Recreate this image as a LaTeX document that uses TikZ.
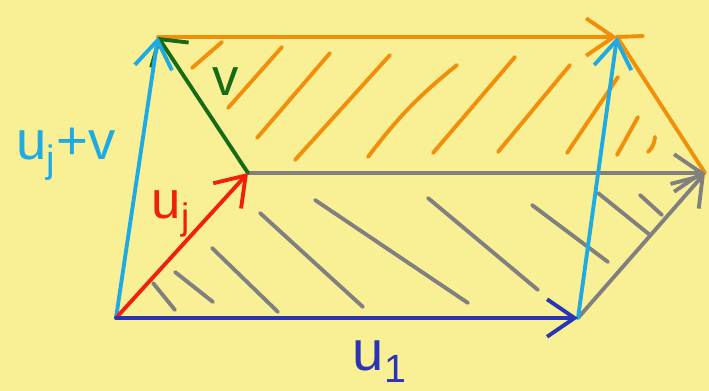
\documentclass[tikz,border=0pt]{standalone}
\usepackage{fontspec}
\setmainfont{Liberation Sans}
\usetikzlibrary{arrows.meta}
\definecolor{paper}{RGB}{249,239,148}
\definecolor{vorange}{RGB}{241,142,10}
\definecolor{vcyan}{RGB}{30,170,228}
\definecolor{vred}{RGB}{240,32,12}
\definecolor{vgreen}{RGB}{22,108,22}
\definecolor{vblue}{RGB}{42,52,182}
\definecolor{vgray}{RGB}{128,128,128}
\begin{document}
\begin{tikzpicture}[
  x=0.02cm,y=-0.02cm,
  line/.style={line width=2.2pt,line cap=round,line join=round},
  hatch/.style={line width=2.2pt,line cap=round},
  barb/.style={-{Straight Barb[length=5.5mm,width=7.5mm]}},
  corner/.style={-{Straight Barb[length=3.8mm,width=9mm]}},
  lab/.style={inner sep=0pt}]
  \fill[paper] (0,0) rectangle (709,391);
  \coordinate (O) at (116,318);
  \coordinate (A) at (578,318);
  \coordinate (B) at (248,173);
  \coordinate (C) at (705,173);
  \coordinate (D) at (158,37);
  \coordinate (E) at (617,37);
  \coordinate (Eo) at (643,36);
  % hatching of the two faces
  \foreach \xa/\ya/\xb/\yb in {192/68/222/42,228/108/282/47,257/138/330/53,
      295/160/390/55,433/153/515/57,498/152/570/65,567/153/618/77,617/155/638/117}
    \draw[hatch,vorange] (\xa,\ya) -- (\xb,\yb);
  \draw[hatch,vorange] (368,157) to[bend left=7] (457,65);
  \draw[hatch,vorange] (648,152) to[bend right=20] (655,137);
  \foreach \xa/\ya/\xb/\yb in {153/283/175/310,175/272/213/302,212/248/278/312,
      260/213/363/307,315/200/468/303,428/198/538/290,532/205/608/262,
      598/193/650/235,640/195/662/215}
    \draw[hatch,vgray] (\xa,\ya) -- (\xb,\yb);
  % vectors
  \draw[line,vorange,barb] (D) -- (E);
  \draw[line,vorange] (E) -- (Eo);
  \draw[line,vorange] (E) -- (C);
  \draw[line,vgray,barb] (B) -- (C);
  \draw[line,vgray,barb] (A) -- (C);
  \draw[line,vgreen,corner] (B) -- (D);
  \draw[line,vcyan,barb] (O) -- (D);
  \draw[line,vcyan,barb] (A) -- (E);
  \draw[line,vred,barb] (O) -- (B);
  \draw[line,vblue,barb] (O) -- (A);
  % labels
  \node[lab,vcyan,font=\fontsize{31}{33}\selectfont] (sumlab) at (66,154)
    {u\textsubscript{j}+v};
  \node[lab,vgreen,font=\fontsize{30}{32}\selectfont] (vlab) at (226,82) {v};
  \node[lab,vred,font=\fontsize{30}{32}\selectfont] (ujlab) at (171,214)
    {u\textsubscript{j}};
  \node[lab,vblue,font=\fontsize{32}{34}\selectfont] (u1lab) at (380,362)
    {u\textsubscript{1}};
\end{tikzpicture}
\end{document}
